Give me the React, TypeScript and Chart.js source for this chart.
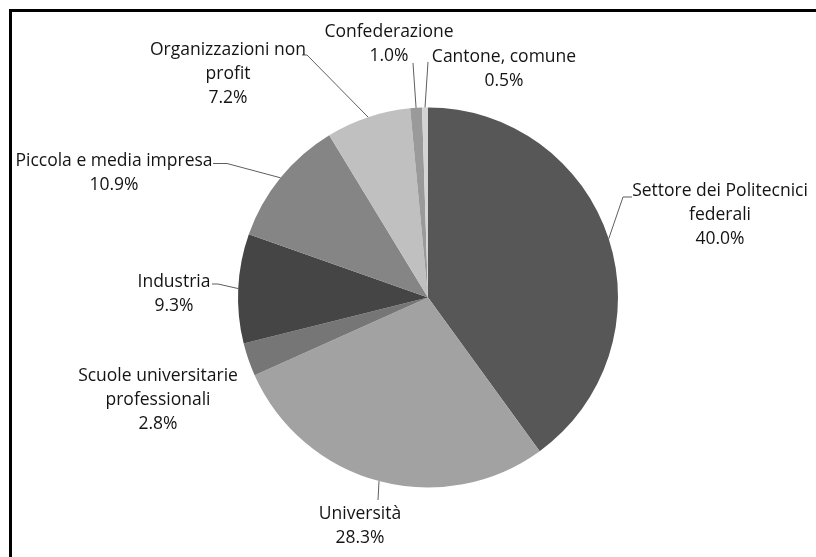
import React, { useEffect, useRef } from "react";
import { Chart, registerables } from "chart.js";

Chart.register(...registerables);

const categories = [
  ["Settore dei Politecnici", "federali"],
  ["Università"],
  ["Scuole universitarie", "professionali"],
  ["Industria"],
  ["Piccola e media impresa"],
  ["Organizzazioni non", "profit"],
  ["Confederazione"],
  ["Cantone, comune"],
];
const shares = [40.0, 28.3, 2.8, 9.3, 10.9, 7.2, 1.0, 0.5];
const colors = ["#575757", "#a2a2a2", "#767676", "#454545", "#858585", "#c0c0c0", "#9a9a9a", "#d4d4d4"];

// label layout: text block centre relative to pie centre (px), leader path relative to label centre
const labelOffsets = [
  [292, -82.5],
  [-68, 229],
  [-270, 102.5],
  [-254, -3.5],
  [-314, -124],
  [-200, -223],
  [-39, -253],
  [76, -228.5],
];
const leaderPaths: (number[][] | null)[] = [
  [[-97, -18], [-88, -18]],
  [[18, -26.5]],
  null,
  [[44, -10], [38, -10]],
  [[113, -10], [99, -10]],
  [[79, -19.5], [74, -19.5]],
  [[24, 18.5]],
  [[-76, -7]],
];

const FONT = "17.5px 'Open Sans', sans-serif";
const LINE_H = 24;

const labelPlugin = {
  id: "pieLabels",
  afterDatasetsDraw(chart: any) {
    const ctx = chart.ctx;
    const meta = chart.getDatasetMeta(0);
    ctx.save();
    meta.data.forEach((arc: any, i: number) => {
      const { x, y, startAngle, endAngle, outerRadius } = arc.getProps(
        ["x", "y", "startAngle", "endAngle", "outerRadius"],
        true
      );
      const mid = (startAngle + endAngle) / 2;
      const ex = x + Math.cos(mid) * outerRadius;
      const ey = y + Math.sin(mid) * outerRadius;
      const lx = x + labelOffsets[i][0];
      const ly = y + labelOffsets[i][1];
      const path = leaderPaths[i];
      if (path) {
        ctx.strokeStyle = "#5e5e5e";
        ctx.lineWidth = 1;
        ctx.beginPath();
        ctx.moveTo(ex, ey);
        path.forEach((p) => ctx.lineTo(lx + p[0], ly + p[1]));
        ctx.stroke();
      }
      const lines = [...categories[i], shares[i].toFixed(1) + "%"];
      ctx.font = FONT;
      ctx.fillStyle = "#141414";
      ctx.textAlign = "center";
      ctx.textBaseline = "middle";
      const top = ly - ((lines.length - 1) * LINE_H) / 2;
      lines.forEach((t, k) => ctx.fillText(t, lx, top + k * LINE_H));
    });
    ctx.restore();
  },
};

export default function App() {
  const ref = useRef<HTMLCanvasElement>(null);
  useEffect(() => {
    if (!ref.current) return;
    const chart = new Chart(ref.current, {
      type: "pie",
      data: {
        labels: categories.map((c) => c.join(" ")),
        datasets: [
          {
            data: shares,
            backgroundColor: colors,
            borderWidth: 0,
          },
        ],
      },
      options: {
        responsive: false,
        animation: false,
        layout: { padding: { left: 238, right: 198, top: 107.5, bottom: 69.5 } },
        plugins: { legend: { display: false }, tooltip: { enabled: false } },
      },
      plugins: [labelPlugin],
    });
    return () => chart.destroy();
  }, []);
  return (
    <div style={{ position: "fixed", left: 0, top: 0, width: 816, height: 557, background: "#fff", overflow: "hidden" }}>
      <canvas ref={ref} width={816} height={557} style={{ position: "absolute", left: 0, top: 0 }} />
      <div
        style={{
          position: "absolute",
          left: 9,
          top: 9,
          width: 804,
          height: 545,
          borderLeft: "3px solid #000",
          borderTop: "3px solid #000",
          pointerEvents: "none",
        }}
      />
    </div>
  );
}
